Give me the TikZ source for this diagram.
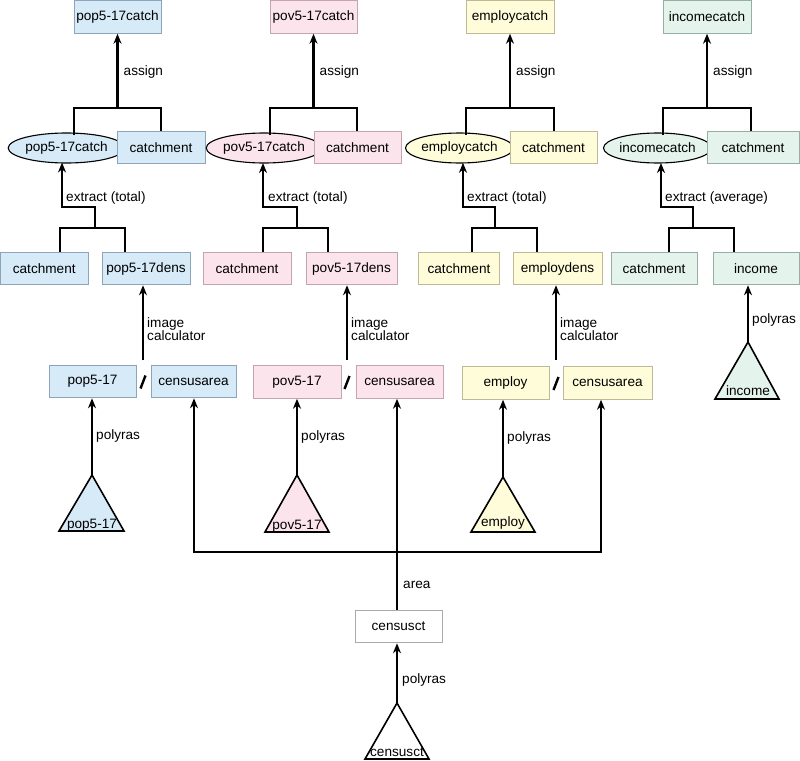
\documentclass[tikz,border=0pt]{standalone}
\usepackage{fontspec}
\setmainfont{Liberation Sans}
\usetikzlibrary{arrows.meta,shapes.geometric}
\definecolor{bfill}{RGB}{214,234,248}
\definecolor{bdraw}{RGB}{140,165,185}
\definecolor{pfill}{RGB}{252,228,236}
\definecolor{pdraw}{RGB}{195,165,175}
\definecolor{yfill}{RGB}{255,253,217}
\definecolor{ydraw}{RGB}{190,185,150}
\definecolor{gfill}{RGB}{228,243,236}
\definecolor{gdraw}{RGB}{150,175,165}
\definecolor{wdraw}{RGB}{170,170,170}
\tikzset{
  every node/.style={font=\fontsize{13.6}{16}\selectfont, inner sep=0pt},
  box/.style={rectangle, draw, line width=1pt, minimum height=32.5pt},
  ell/.style={ellipse, draw=black, line width=1.1pt, minimum height=30pt},
  tri/.style={draw=black, line width=1.6pt, line join=miter},
  flow/.style={line width=2.3pt, -{Stealth[length=10pt,width=8pt]}},
  thickln/.style={line width=2.3pt},
  thinln/.style={line width=1.2pt},
  lbl/.style={anchor=west, align=left},
  trilbl/.style={anchor=base},
}
\begin{document}
\begin{tikzpicture}[x=1pt,y=-1pt]
\useasboundingbox (0,0) rectangle (800,760);
\fill[white] (0,0) rectangle (800,760);

% ---------------- Column A (blue) ----------------
\node[box, fill=bfill, draw=bdraw, minimum width=87pt] (Atop) at (117.5,17) {pop5-17catch};
\node[ell, fill=bfill, minimum width=99pt] (Aell) at (66.5,148) {pop5-17catch};
\node[box, fill=bfill, draw=bdraw, minimum width=88pt] (Acat) at (161,147.5) {catchment};
\node[box, fill=bfill, draw=bdraw, minimum width=87.5pt] (Acat2) at (44.25,268.5) {catchment};
\node[box, fill=bfill, draw=bdraw, minimum width=88pt] (Adens) at (146,268.5) {pop5-17dens};
\node[box, fill=bfill, draw=bdraw, minimum width=87pt] (Apop) at (92.5,381.5) {pop5-17};
\node[box, fill=bfill, draw=bdraw, minimum width=85pt] (Acen) at (193.5,381.5) {censusarea};
\coordinate (Atri) at (92,475);
\fill[bfill] (Atri) -- (59,531) -- (124,531) -- cycle;
\draw[tri] (Atri) -- (59,531) -- (124,531) -- cycle;
\node[trilbl] (AtriL) at (92,528) {pop5-17};

% ---------------- Column B (pink) ----------------
\node[box, fill=pfill, draw=pdraw, minimum width=87pt] (Btop) at (313.5,17) {pov5-17catch};
\node[ell, fill=pfill, minimum width=98pt] (Bell) at (264,148) {pov5-17catch};
\node[box, fill=pfill, draw=pdraw, minimum width=87pt] (Bcat) at (357.5,147.5) {catchment};
\node[box, fill=pfill, draw=pdraw, minimum width=88pt] (Bcat2) at (247,268.5) {catchment};
\node[box, fill=pfill, draw=pdraw, minimum width=91pt] (Bdens) at (351.5,268.5) {pov5-17dens};
\node[box, fill=pfill, draw=pdraw, minimum width=88pt] (Bpov) at (297,382) {pov5-17};
\node[box, fill=pfill, draw=pdraw, minimum width=87pt] (Bcen) at (399.5,382) {censusarea};
\coordinate (Btri) at (297,475);
\fill[pfill] (Btri) -- (265,532) -- (329,532) -- cycle;
\draw[tri] (Btri) -- (265,532) -- (329,532) -- cycle;
\node[trilbl] (BtriL) at (297,529) {pov5-17};

% ---------------- Column C (yellow) ----------------
\node[box, fill=yfill, draw=ydraw, minimum width=88pt] (Ctop) at (510,17) {employcatch};
\node[ell, fill=yfill, minimum width=97pt] (Cell) at (459.5,148) {employcatch};
\node[box, fill=yfill, draw=ydraw, minimum width=87pt] (Ccat) at (553.5,147.5) {catchment};
\node[box, fill=yfill, draw=ydraw, minimum width=81pt] (Ccat2) at (459,268.5) {catchment};
\node[box, fill=yfill, draw=ydraw, minimum width=89pt] (Cdens) at (557.5,268.5) {employdens};
\node[box, fill=yfill, draw=ydraw, minimum width=87pt] (Cemp) at (505.5,383) {employ};
\node[box, fill=yfill, draw=ydraw, minimum width=89pt] (Ccen) at (607.5,383) {censusarea};
\coordinate (Ctri) at (503,477);
\fill[yfill] (Ctri) -- (471,532) -- (535,532) -- cycle;
\draw[tri] (Ctri) -- (471,532) -- (535,532) -- cycle;
\node[trilbl] (CtriL) at (503,526) {employ};

% ---------------- Column D (green) ----------------
\node[box, fill=gfill, draw=gdraw, minimum width=88pt] (Dtop) at (707,17) {incomecatch};
\node[ell, fill=gfill, minimum width=99pt] (Dell) at (657.5,148) {incomecatch};
\node[box, fill=gfill, draw=gdraw, minimum width=92pt] (Dcat) at (753,147.5) {catchment};
\node[box, fill=gfill, draw=gdraw, minimum width=86pt] (Dcat2) at (654,268.5) {catchment};
\node[box, fill=gfill, draw=gdraw, minimum width=86pt] (Dinc) at (756,268.5) {income};
\coordinate (Dtri) at (748,342);
\fill[gfill] (Dtri) -- (715,399) -- (779,399) -- cycle;
\draw[tri] (Dtri) -- (715,399) -- (779,399) -- cycle;
\node[trilbl] (DtriL) at (748,395) {income};

% ---------------- census tract ----------------
\node[box, fill=white, draw=wdraw, minimum width=87pt] (Ect) at (398.5,626.5) {censusct};
\coordinate (Etri) at (397,703);
\fill[white] (Etri) -- (365,759) -- (429,759) -- cycle;
\draw[tri] (Etri) -- (365,759) -- (429,759) -- cycle;
\node[trilbl] (EtriL) at (397,756) {censusct};

% ---------------- assign brackets ----------------
\foreach \t/\xl/\xr/\xm in {Atop/74/161/117.5, Btop/270/357/313.5, Ctop/466/554/510, Dtop/663/751/707}{
  \draw[thinln] (\xl,135) -- (\xl,108) -- (\xr,108) -- (\xr,131);
  \draw[flow] (\xm,108) -- (\t.south);
  \node[lbl] at (\xm+6,72) {assign};
}

% ---------------- extract brackets ----------------
\draw[thickln] (Acat2.north -| 60,0) -- (60,228) -- (125,228) -- (Adens.north -| 125,0);
\draw[flow] (95,228) -- (95,207) -- (62,207) -- (62,162.5);
\node[lbl] at (66,198) {extract (total)};

\draw[thickln] (Bcat2.north -| 263,0) -- (263,228) -- (328,228) -- (Bdens.north -| 328,0);
\draw[flow] (297,228) -- (297,207) -- (263,207) -- (263,163);
\node[lbl] at (268,198) {extract (total)};

\draw[thickln] (Ccat2.north -| 472,0) -- (472,228) -- (537,228) -- (Cdens.north -| 537,0);
\draw[flow] (495,228) -- (495,207) -- (463,207) -- (463,162.8);
\node[lbl] at (467,198) {extract (total)};

\draw[thickln] (Dcat2.north -| 669,0) -- (669,228) -- (734,228) -- (Dinc.north -| 734,0);
\draw[flow] (693,228) -- (693,207) -- (661,207) -- (661,163);
\node[lbl] at (665,198) {extract (average)};

% ---------------- image calculator ----------------
\draw[flow] (143,360) -- (Adens.south -| 143,0);
\node[lbl] at (147,329) {image\\[-2.5pt]calculator};
\draw[line width=2.4pt] (140.5,388.5) -- (145.5,375.5);

\draw[flow] (347,360) -- (Bdens.south -| 347,0);
\node[lbl] at (351,329) {image\\[-2.5pt]calculator};
\draw[line width=2.4pt] (344.5,389) -- (349.5,376);

\draw[flow] (556,360) -- (Cdens.south -| 556,0);
\node[lbl] at (560,329) {image\\[-2.5pt]calculator};
\draw[line width=2.4pt] (553.5,390) -- (558.5,377);

% ---------------- polyras ----------------
\draw[flow] (Atri) -- (Apop.south -| Atri);
\node[lbl] at (96,436) {polyras};
\draw[flow] (Btri) -- (Bpov.south -| Btri);
\node[lbl] at (301,437) {polyras};
\draw[flow] (Ctri) -- (Cemp.south -| Ctri);
\node[lbl] at (507,438) {polyras};
\draw[flow] (Dtri) -- (Dinc.south -| Dtri);
\node[lbl] at (752,320) {polyras};
\draw[flow] (Etri) -- (Ect.south -| Etri);
\node[lbl] at (402,680) {polyras};

% ---------------- area bus ----------------
\coordinate (bus) at (397,552);
\draw[flow] (Ect.north -| bus) -- (Bcen.south -| bus);
\draw[flow] (bus) -- (194,552) -- (Acen.south -| 194,0);
\draw[flow] (bus) -- (601,552) -- (Ccen.south -| 601,0);
\node[lbl] at (403,585) {area};
\end{tikzpicture}
\end{document}
